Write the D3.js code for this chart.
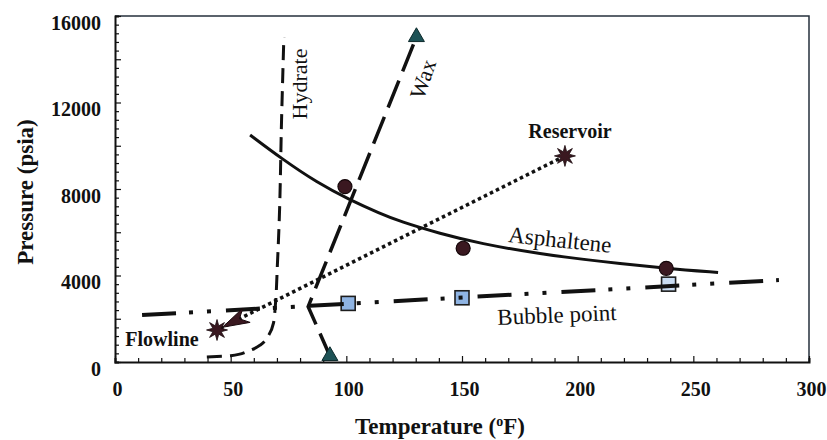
<!DOCTYPE html>
<html>
<head>
<meta charset="utf-8">
<script src="https://cdn.jsdelivr.net/npm/d3@7"></script>
<style>
  body { margin: 0; background: #fff; }
</style>
</head>
<body>
<svg id="chart" width="827" height="440"></svg>
<script>
// Axis tick labels
const tempTicks = [0, 50, 100, 150, 200, 250, 300];      // °F
const pressTicks = [0, 4000, 8000, 12000, 16000];        // psia

// Hydrate formation boundary
const hydrateT = [39.7, 50, 58, 63, 66.5, 68.5, 69.3, 70.2, 71, 72, 73];
const hydrateP = [230, 290, 520, 800, 1250, 1800, 2600, 4500, 6570, 11190, 15030];

// Wax appearance boundary (end points carry triangle markers)
const waxT = [92.9, 83.5, 130.3];
const waxP = [280, 2560, 15030];

// Asphaltene onset curve and measured points
const asphT = [58.4, 72.2, 87.3, 101.6, 114.6, 123.2, 140.5, 157.8, 183.7, 209.7, 238.6, 260.7];
const asphP = [10500, 9390, 8300, 7490, 6870, 6500, 5940, 5480, 4990, 4650, 4330, 4140];
const asphPtsT = [99.4, 150.5, 238.3];
const asphPtsP = [8110, 5260, 4330];

// Bubble point line and measured points
const bubbleT = [11.7, 287];
const bubbleP = [2170, 3790];
const bubblePtsT = [100.8, 150, 239.3];
const bubblePtsP = [2710, 2970, 3600];

// Production path: reservoir -> flowline
const pathNames = ["Flowline", "Reservoir"];
const pathT = [44.1, 194.5];
const pathP = [1480, 9530];

const SERIF = "'Liberation Serif', 'Times New Roman', Times, serif";

const svg = d3.select("#chart");
const x = d3.scaleLinear().domain([0, 300]).range([115, 809]);
const y = d3.scaleLinear().domain([0, 16000]).range([362, 16]);

svg.append("rect").attr("width", 827).attr("height", 440).attr("fill", "#fff");

function label(sel, size, weight) {
  return sel.attr("font-family", SERIF).style("font-family", SERIF)
    .attr("font-size", size).style("font-size", size + "px")
    .attr("font-weight", weight).style("font-weight", weight)
    .attr("fill", "#111");
}

// Plot frame (top and right)
svg.append("path")
  .attr("d", `M${x(0)},${y(16000)}H${x(300)}V${y(0)}`)
  .attr("fill", "none").attr("stroke", "#26313d").attr("stroke-width", 1.5);

// X axis: ticks every 10 °F, longer every 50
const gx = svg.append("g")
  .attr("transform", `translate(0,${y(0)})`)
  .call(d3.axisBottom(x).tickValues(d3.range(0, 301, 10)).tickSize(-4)
    .tickFormat(d => tempTicks.includes(d) ? d : ""));
gx.attr("font-family", SERIF);
gx.select(".domain").attr("stroke", "#111").attr("stroke-width", 2);
gx.selectAll(".tick line").attr("stroke", "#111").attr("stroke-width", 1.2)
  .attr("y2", d => d % 50 === 0 ? -6 : -4);
label(gx.selectAll(".tick text"), 20, 700)
  .attr("y", 34).attr("dy", 0).attr("dx", 2);

// Y axis: ticks every 400 psia, longer every 2000
const gy = svg.append("g")
  .attr("transform", `translate(${x(0)},0)`)
  .call(d3.axisLeft(y).tickValues(d3.range(0, 16001, 400)).tickSize(-4)
    .tickFormat(d => pressTicks.includes(d) ? d : ""));
gy.attr("font-family", SERIF);
gy.select(".domain").attr("stroke", "#111").attr("stroke-width", 2);
gy.selectAll(".tick line").attr("stroke", "#111").attr("stroke-width", 1.2)
  .attr("x2", d => d % 2000 === 0 ? 6 : 4);
label(gy.selectAll(".tick text"), 20, 700)
  .attr("x", -14).attr("y", 7).attr("dy", "0.32em");

// Axis titles
const xt = label(svg.append("text"), 23, 700)
  .attr("x", 440).attr("y", 434).attr("text-anchor", "middle");
xt.append("tspan").text("Temperature (");
xt.append("tspan").text("o").style("font-size", "14px").attr("dy", -8);
xt.append("tspan").text("F)").attr("dy", 8);

label(svg.append("text"), 23, 700)
  .attr("transform", "translate(25,192) rotate(-90)")
  .attr("text-anchor", "middle").attr("dominant-baseline", "central")
  .text("Pressure (psia)");

const pts = (ts, ps) => d3.zip(ts, ps);
const line = d3.line().x(d => x(d[0])).y(d => y(d[1]));

// Hydrate curve
svg.append("path")
  .datum(pts(hydrateT, hydrateP))
  .attr("d", d3.line().x(d => x(d[0])).y(d => y(d[1])).curve(d3.curveMonotoneY))
  .attr("fill", "none").attr("stroke", "#111").attr("stroke-width", 3)
  .attr("stroke-dasharray", "15,8");

// Wax curve
svg.append("path")
  .datum(pts(waxT, waxP).reverse())
  .attr("d", line)
  .attr("fill", "none").attr("stroke", "#111").attr("stroke-width", 3.5)
  .attr("stroke-dasharray", "29,10").attr("stroke-dashoffset", -8);

// Asphaltene curve
svg.append("path")
  .datum(pts(asphT, asphP))
  .attr("d", d3.line().x(d => x(d[0])).y(d => y(d[1])).curve(d3.curveBasis))
  .attr("fill", "none").attr("stroke", "#111").attr("stroke-width", 3);

// Bubble point squares (line drawn over them)
const sq = 14;
svg.selectAll(".bsq").data(pts(bubblePtsT, bubblePtsP)).join("rect")
  .attr("x", d => x(d[0]) - sq / 2).attr("y", d => y(d[1]) - sq / 2)
  .attr("width", sq).attr("height", sq)
  .attr("fill", (d, i) => i === 2 ? "#c9dcf2" : "#8fb4e3")
  .attr("stroke", "#1d1d1d").attr("stroke-width", 1.6);

// Bubble point line: long dash, dot, dot
svg.append("path")
  .datum(pts(bubbleT, bubbleP))
  .attr("d", line)
  .attr("fill", "none").attr("stroke", "#111").attr("stroke-width", 4)
  .attr("stroke-dasharray", "34,13,4,14,4,15");

// Production path (dotted) from reservoir to flowline
const pp = pts(pathT, pathP).map(d => [x(d[0]), y(d[1])]);
svg.append("path")
  .attr("d", `M${pp[1][0]},${pp[1][1]}L${pp[0][0]},${pp[0][1]}`)
  .attr("fill", "none").attr("stroke", "#111").attr("stroke-width", 3.5)
  .attr("stroke-dasharray", "3.5,3.2");

// Arrowhead pointing at the flowline
{
  const dx = pp[1][0] - pp[0][0], dy = pp[1][1] - pp[0][1];
  const L = Math.hypot(dx, dy), ux = dx / L, uy = dy / L, px = -uy, py = ux;
  const tip = [pp[0][0] + ux * 6, pp[0][1] + uy * 6];
  const back = [tip[0] + ux * 27, tip[1] + uy * 27];
  const notch = [tip[0] + ux * 19, tip[1] + uy * 19];
  const w1 = [back[0] + px * 8, back[1] + py * 8];
  const w2 = [back[0] - px * 8, back[1] - py * 8];
  svg.append("path")
    .attr("d", `M${tip}L${w1}L${notch}L${w2}Z`)
    .attr("fill", "#3a1820").attr("stroke", "#1a0a0e").attr("stroke-width", 1);
}

// Asphaltene measured points
svg.selectAll(".acirc").data(pts(asphPtsT, asphPtsP)).join("circle")
  .attr("cx", d => x(d[0])).attr("cy", d => y(d[1])).attr("r", 7)
  .attr("fill", "#3a1820").attr("stroke", "#140609").attr("stroke-width", 1.2);

// Wax end markers
const waxPts = pts(waxT, waxP);
svg.selectAll(".wtri").data([waxPts[0], waxPts[2]]).join("path")
  .attr("transform", d => `translate(${x(d[0])},${y(d[1])})`)
  .attr("d", d3.symbol(d3.symbolTriangle, 110))
  .attr("fill", "#1d5256").attr("stroke", "#0d2a2c").attr("stroke-width", 1);

// Star markers for reservoir and flowline conditions
function starPath(R, r, n) {
  const p = [];
  for (let i = 0; i < 2 * n; i++) {
    const a = Math.PI * i / n - Math.PI / 2;
    const rr = i % 2 === 0 ? R : r;
    p.push([Math.cos(a) * rr, Math.sin(a) * rr]);
  }
  return "M" + p.join("L") + "Z";
}
svg.selectAll(".star").data(pp).join("path")
  .attr("transform", d => `translate(${d[0]},${d[1]})`)
  .attr("d", starPath(10.5, 4.5, 8))
  .attr("fill", "#3a1820").attr("stroke", "#1a0a0e").attr("stroke-width", 0.8);

// Labels for the production path ends
label(svg.append("text"), 20, 700).attr("x", 570).attr("y", 131)
  .attr("text-anchor", "middle").attr("dominant-baseline", "central")
  .text(pathNames[1]);
label(svg.append("text"), 20, 700).attr("x", 162).attr("y", 339)
  .attr("text-anchor", "middle").attr("dominant-baseline", "central")
  .text(pathNames[0]);

// Curve labels
label(svg.append("text"), 22, 400).attr("transform", "translate(299,84) rotate(-90)")
  .attr("text-anchor", "middle").attr("dominant-baseline", "central").text("Hydrate");
label(svg.append("text"), 22, 400).attr("transform", "translate(423,79) rotate(-71)")
  .attr("text-anchor", "middle").attr("dominant-baseline", "central").text("Wax");
label(svg.append("text"), 23, 400).attr("transform", "translate(560,240) rotate(6)")
  .attr("text-anchor", "middle").attr("dominant-baseline", "central").text("Asphaltene");
label(svg.append("text"), 23, 400).attr("transform", "translate(557,315) rotate(-2.3)")
  .attr("text-anchor", "middle").attr("dominant-baseline", "central").text("Bubble point");
</script>
</body>
</html>
